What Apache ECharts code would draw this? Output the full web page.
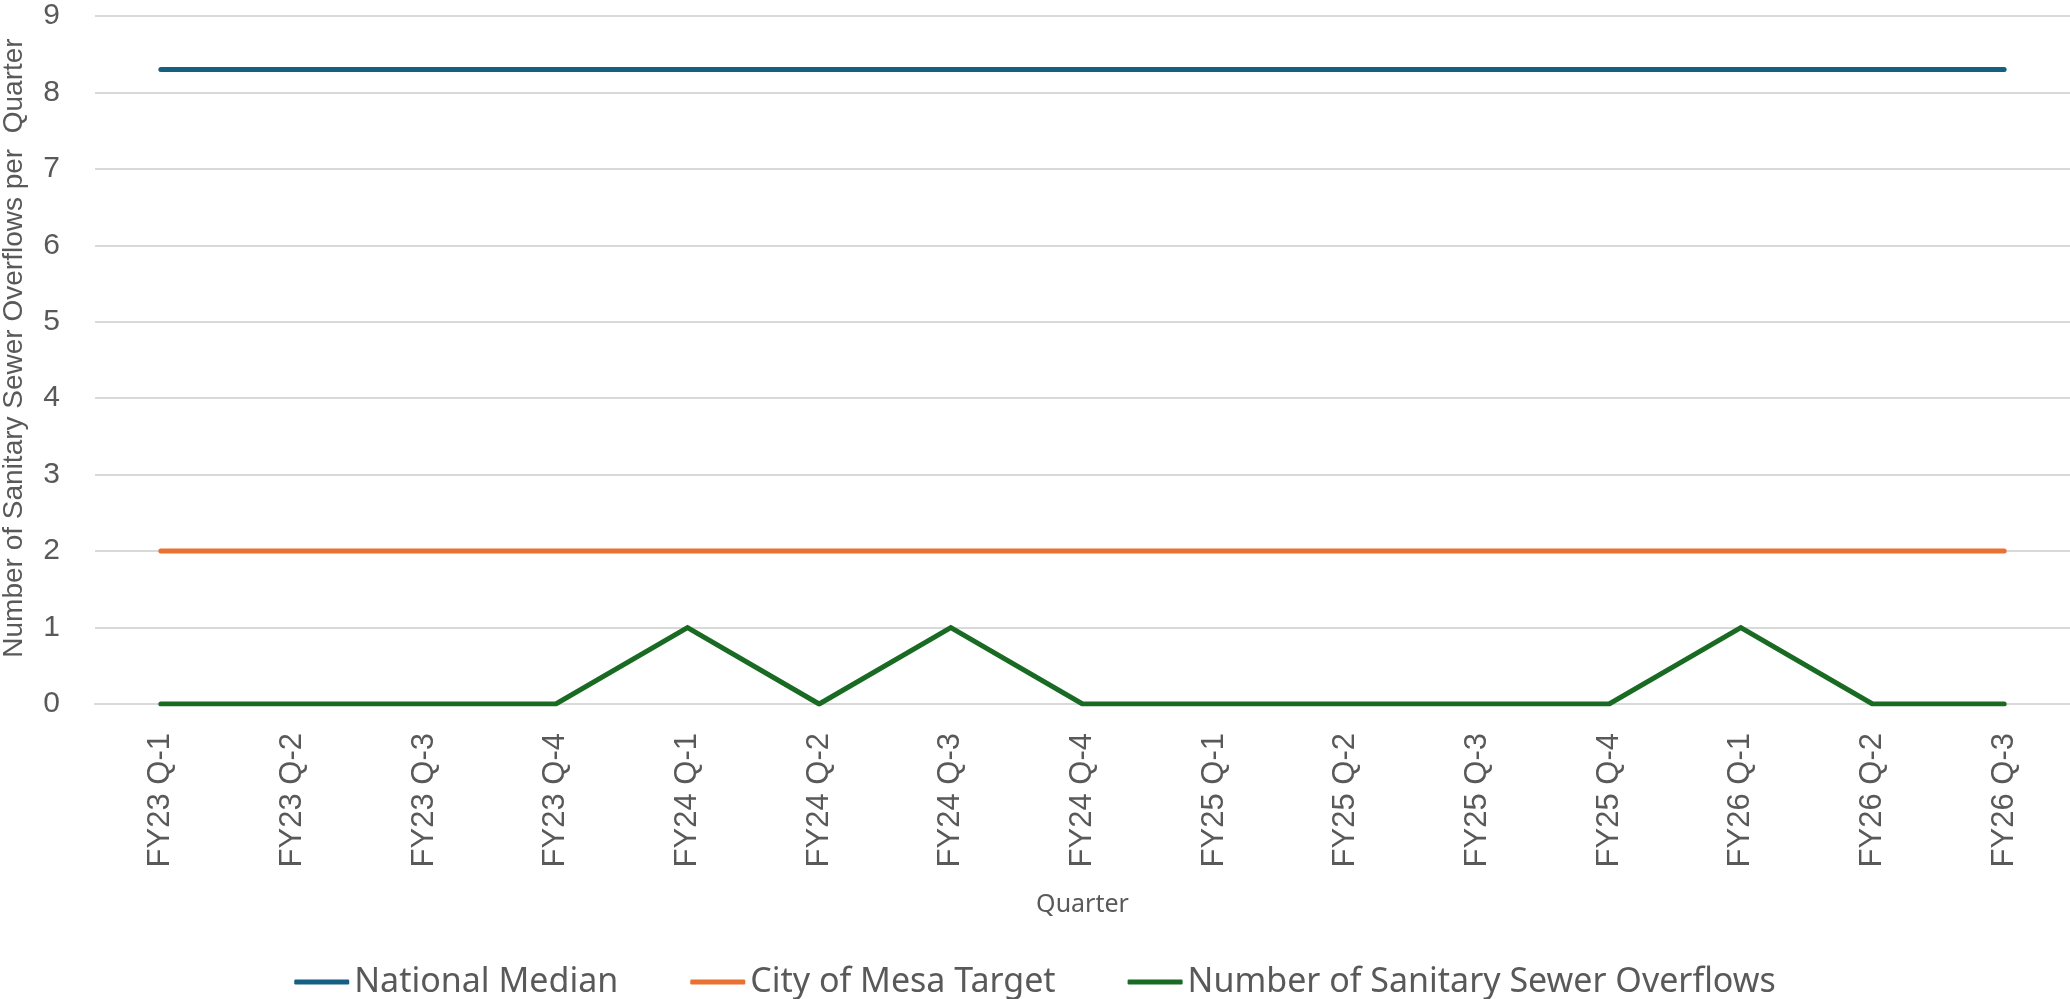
<!DOCTYPE html>
<html>
<head>
    <title>Sanitary Sewer Overflows</title>
    <script src="https://cdn.jsdelivr.net/npm/echarts@6/dist/echarts.min.js"></script>
    <style>
        html, body { margin: 0; padding: 0; background: #fff; }
    </style>
</head>
<body>
    <div id="main" style="width: 2070px; height: 999px;"></div>
    <script>
        var quarters = ['FY23 Q-1', 'FY23 Q-2', 'FY23 Q-3', 'FY23 Q-4', 'FY24 Q-1', 'FY24 Q-2', 'FY24 Q-3', 'FY24 Q-4',
            'FY25 Q-1', 'FY25 Q-2', 'FY25 Q-3', 'FY25 Q-4', 'FY26 Q-1', 'FY26 Q-2', 'FY26 Q-3'];
        var nationalMedian = [8.3, 8.3, 8.3, 8.3, 8.3, 8.3, 8.3, 8.3, 8.3, 8.3, 8.3, 8.3, 8.3, 8.3, 8.3];
        var mesaTarget = [2, 2, 2, 2, 2, 2, 2, 2, 2, 2, 2, 2, 2, 2, 2];
        var overflows = [0, 0, 0, 0, 1, 0, 1, 0, 0, 0, 0, 0, 1, 0, 0];
        var seriesNames = ['National Median', 'City of Mesa Target', 'Number of Sanitary Sewer Overflows'];
        var yTitle = 'Number of Sanitary Sewer Overflows per  Quarter';

        var chartDom = document.getElementById('main');
        var myChart = echarts.init(chartDom);

        function lineSeries(name, data, color) {
            return {
                name: name,
                type: 'line',
                data: data,
                symbol: 'none',
                color: color,
                lineStyle: { color: color, width: 5, cap: 'round', join: 'miter' }
            };
        }

        var option = {
            animation: false,
            textStyle: { fontFamily: 'Liberation Sans', color: '#595959' },
            grid: { left: 95, right: 0, top: 16, bottom: 295, outerBoundsMode: 'none', containLabel: false },
            // y axis title as plain text
            graphic: [{
                type: 'text',
                x: 14,
                y: 348,
                rotation: Math.PI / 2,
                style: {
                    text: yTitle,
                    fontFamily: 'Liberation Sans',
                    fontSize: 28,
                    fill: '#595959',
                    textAlign: 'center',
                    textVerticalAlign: 'middle'
                }
            }],
            legend: {
                data: seriesNames,
                top: 949,
                left: 'center',
                icon: 'roundRect',
                itemWidth: 55,
                itemHeight: 5,
                itemGap: 72,
                textStyle: { fontFamily: 'Noto Sans', fontSize: 34, color: '#595959' }
            },
            xAxis: {
                type: 'category',
                data: quarters,
                name: 'Quarter',
                nameLocation: 'middle',
                nameGap: 180,
                nameTextStyle: { fontFamily: 'Noto Sans', fontSize: 25, color: '#595959' },
                axisTick: { show: false },
                axisLine: { lineStyle: { color: '#d9d9d9', width: 2 } },
                axisLabel: { rotate: 90, fontSize: 31, color: '#595959', margin: 29 }
            },
            yAxis: {
                type: 'value',
                min: 0,
                max: 9,
                interval: 1,
                offset: 0,
                axisLine: { show: false, onZero: false },
                axisLabel: { fontSize: 30, color: '#595959', margin: 35 },
                splitLine: { lineStyle: { color: '#d9d9d9', width: 2 } }
            },
            series: [
                lineSeries(seriesNames[0], nationalMedian, '#156082'),
                lineSeries(seriesNames[1], mesaTarget, '#E97132'),
                lineSeries(seriesNames[2], overflows, '#196B24')
            ]
        };

        myChart.setOption(option);
    </script>
</body>
</html>
